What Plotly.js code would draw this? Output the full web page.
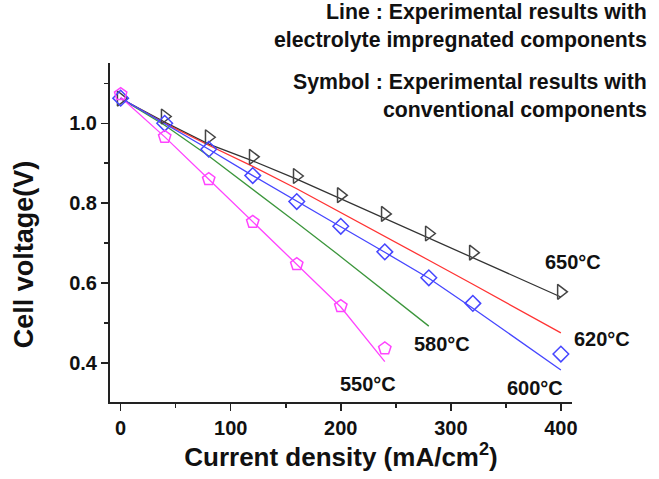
<!DOCTYPE html>
<html>
<head>
<meta charset="utf-8">
<script src="https://cdn.plot.ly/plotly-3.0.1.min.js"></script>
<style>html,body{margin:0;padding:0;background:#fff;}</style>
</head>
<body>
<div id="chart" style="width:659px;height:479px;"></div>
<script>
// Lines: experimental results with electrolyte impregnated components
const lineX = [0, 40, 80, 120, 160, 200, 240, 280, 320, 360, 400];
const line650 = [1.062, 1.003, 0.948, 0.906, 0.860, 0.811, 0.762, 0.713, 0.663, 0.614, 0.565];
const line620 = [1.062, 1.000, 0.945, 0.892, 0.836, 0.777, 0.717, 0.657, 0.597, 0.536, 0.475];
const line600 = [1.063, 1.000, 0.935, 0.869, 0.804, 0.741, 0.677, 0.612, 0.537, 0.459, 0.382];
const line580X = [0, 40, 80, 120, 160, 200, 240, 280];
const line580 = [1.062, 0.995, 0.918, 0.835, 0.751, 0.666, 0.580, 0.492];
const line550X = [0, 40, 80, 120, 160, 200, 240];
const line550 = [1.065, 0.966, 0.860, 0.753, 0.647, 0.540, 0.403];

// Symbols: experimental results with conventional components
const sym650X = [0, 40, 80, 120, 160, 200, 240, 280, 320, 400];
const sym650 = [1.062, 1.017, 0.965, 0.916, 0.868, 0.820, 0.773, 0.724, 0.676, 0.578];
const sym600X = [0, 40, 80, 120, 160, 200, 240, 280, 320, 400];
const sym600 = [1.063, 1.000, 0.935, 0.869, 0.804, 0.742, 0.678, 0.613, 0.549, 0.422];
const sym550X = [0, 40, 80, 120, 160, 200, 240];
const sym550 = [1.073, 0.966, 0.860, 0.753, 0.647, 0.542, 0.436];

// Labels
const tempLabels = ["650°C", "620°C", "600°C", "580°C", "550°C"];
const tempLabelX = [1.0017, 1.0649, 0.9205, 0.7186, 0.5584];   // paper fractions
const tempLabelY = [0.413, 0.1858, 0.0413, 0.1711, 0.0519];
const noteBlocks = [
  "Line : Experimental results with<br>electrolyte impregnated components",
  "Symbol : Experimental results with<br>conventional components"
];
const noteY = [1.1077, 0.9027];
const xTicks = [0, 100, 200, 300, 400];
const xTitle = "Current density (mA/cm<sup>2</sup>)";
const yTitle = "Cell voltage(V)";

const FONT = "Liberation Sans, Arial, Helvetica, sans-serif";
const cBlack = "#333333", cRed = "#ff3333", cBlue = "#4646ff", cGreen = "#3c963c", cMag = "#ff44ff";

function lineTrace(x, y, color, name) {
  return {x: x, y: y, type: "scatter", mode: "lines", name: name,
          line: {color: color, width: 1.3}, showlegend: false};
}
function symTrace(x, y, color, symbol, size, name) {
  return {x: x, y: y, type: "scatter", mode: "markers", name: name, showlegend: false,
          marker: {symbol: symbol, size: size, color: "rgba(255,255,255,0)", line: {color: color, width: 1.5}}};
}

const data = [
  lineTrace(lineX, line650, cBlack, "650°C line"),
  lineTrace(lineX, line620, cRed, "620°C line"),
  lineTrace(line580X, line580, cGreen, "580°C line"),
  lineTrace(lineX, line600, cBlue, "600°C line"),
  lineTrace(line550X, line550, cMag, "550°C line"),
  symTrace(sym650X, sym650, "#444444", "triangle-right", 13, "650°C symbol"),
  symTrace(sym600X, sym600, cBlue, "diamond", 12, "600°C symbol"),
  symTrace(sym550X, sym550, cMag, "pentagon", 13, "550°C symbol")
];

const annotations = [];
for (let i = 0; i < tempLabels.length; i++) {
  annotations.push({x: tempLabelX[i], y: tempLabelY[i], xref: "paper", yref: "paper", text: tempLabels[i],
    showarrow: false, xanchor: "center", yanchor: "middle",
    font: {family: FONT, size: 20, color: "#111", weight: "bold"}});
}
for (let i = 0; i < noteBlocks.length; i++) {
  annotations.push({x: 1.166, y: noteY[i], xref: "paper", yref: "paper", text: noteBlocks[i],
    showarrow: false, xanchor: "right", yanchor: "middle", align: "right",
    font: {family: FONT, size: 21.3, color: "#111", weight: "bold"}});
}
// y-axis title (placed as rotated text to match the reference position)
annotations.push({x: -0.1861, y: 0.436, xref: "paper", yref: "paper", text: yTitle, textangle: -90,
  showarrow: false, xanchor: "center", yanchor: "middle",
  font: {family: FONT, size: 27, color: "#111", weight: "bold"}});

const layout = {
  width: 659, height: 479,
  margin: {l: 110, r: 87, t: 63, b: 77, pad: 0},
  paper_bgcolor: "#ffffff", plot_bgcolor: "#ffffff",
  showlegend: false,
  font: {family: FONT, color: "#111"},
  xaxis: {
    range: [-9.7, 410.1], tickvals: xTicks, ticks: "outside", ticklen: 7, tickwidth: 1.5, tickcolor: "#222",
    showline: true, linewidth: 2, linecolor: "#222", showgrid: false, zeroline: false,
    minor: {dtick: 50, tick0: 0, ticks: "outside", ticklen: 4, tickwidth: 1.5, tickcolor: "#222", showgrid: false},
    tickfont: {family: FONT, size: 20, color: "#111", weight: "bold"},
    title: {text: xTitle, standoff: 10, font: {family: FONT, size: 26, color: "#111", weight: "bold"}},
    automargin: false
  },
  yaxis: {
    range: [0.302, 1.151], tick0: 0, dtick: 0.2, tickformat: ".1f", ticks: "outside", ticklen: 7, tickwidth: 1.5, tickcolor: "#222",
    showline: true, linewidth: 2, linecolor: "#222", showgrid: false, zeroline: false,
    minor: {dtick: 0.1, tick0: 0, ticks: "outside", ticklen: 4, tickwidth: 1.5, tickcolor: "#222", showgrid: false},
    tickfont: {family: FONT, size: 20, color: "#111", weight: "bold"},
    automargin: false
  },
  annotations: annotations
};

Plotly.newPlot("chart", data, layout, {displayModeBar: false, staticPlot: true});
</script>
</body>
</html>
